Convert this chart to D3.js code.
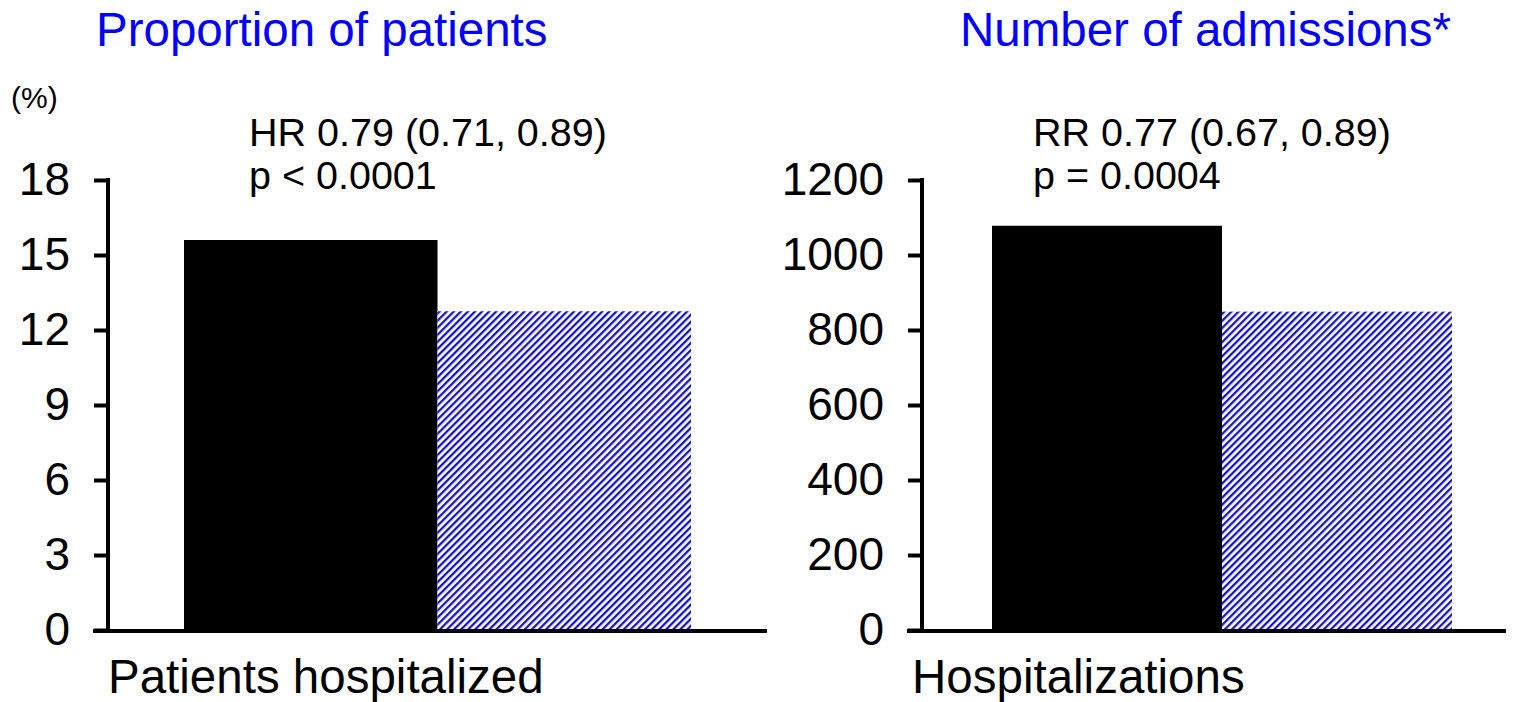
<!DOCTYPE html>
<html>
<head>
<meta charset="utf-8">
<script src="https://cdn.jsdelivr.net/npm/d3@7"></script>
<style>
  html, body { margin: 0; padding: 0; background: #fff; }
  svg { display: block; font-family: "Liberation Sans", Arial, sans-serif; }
</style>
</head>
<body>
<svg id="chart" width="1513" height="702"></svg>
<script>
// Panel data
const panelTitles = ["Proportion of patients", "Number of admissions*"];
const xLabels = ["Patients hospitalized", "Hospitalizations"];
const groups = ["Control", "Treatment"];
const patientsValues = [15.6, 12.75];
const admissionsValues = [1078, 849];
const patientsTicks = [0, 3, 6, 9, 12, 15, 18];
const admissionsTicks = [0, 200, 400, 600, 800, 1000, 1200];
const statLines = [
  ["HR 0.79 (0.71, 0.89)", "p < 0.0001"],
  ["RR 0.77 (0.67, 0.89)", "p = 0.0004"]
];
const unitLabel = "(%)";

const svg = d3.select("#chart");

// diagonal blue hatching for the second group
const defs = svg.append("defs");
const pat = defs.append("pattern")
  .attr("id", "hatch")
  .attr("patternUnits", "userSpaceOnUse")
  .attr("width", 5).attr("height", 5)
  .attr("patternTransform", "rotate(45)");
pat.append("rect").attr("width", 5).attr("height", 5).attr("fill", "#fff");
pat.append("rect").attr("x", 0).attr("y", 0).attr("width", 2.3).attr("height", 5).attr("fill", "#1414c4");

const panels = [
  { title: panelTitles[0], titleX: 96, xLabel: xLabels[0], labelX: 108, values: patientsValues, ticks: patientsTicks,
    max: 18, axisX: 108, bars: [184, 691], baseEnd: 767, stats: statLines[0], statX: 249, unit: true },
  { title: panelTitles[1], titleX: 960, xLabel: xLabels[1], labelX: 912, values: admissionsValues, ticks: admissionsTicks,
    max: 1200, axisX: 922, bars: [992, 1452], baseEnd: 1506, stats: statLines[1], statX: 1033, unit: false }
];

const yTop = 180, yBase = 630;

panels.forEach(p => {
  const g = svg.append("g");
  const y = d3.scaleLinear().domain([0, p.max]).range([yBase, yTop]);
  const x = d3.scaleBand().domain(groups).range(p.bars).paddingInner(0).paddingOuter(0);

  // bars
  g.selectAll("rect.bar").data(groups.map((k, i) => ({ k, v: p.values[i] })))
    .enter().append("rect")
    .attr("class", "bar")
    .attr("x", d => x(d.k))
    .attr("width", x.bandwidth())
    .attr("y", d => y(d.v))
    .attr("height", d => yBase - y(d.v))
    .attr("fill", (d, i) => i === 0 ? "#000" : "url(#hatch)");

  // y axis
  const yAxis = d3.axisLeft(y).tickValues(p.ticks).tickFormat(d3.format("d"))
    .tickSize(14).tickPadding(24).tickSizeOuter(0);
  const ag = g.append("g").attr("transform", `translate(${p.axisX},0)`).call(yAxis);
  ag.select(".domain").attr("stroke", "#000").attr("stroke-width", 4)
    .attr("d", `M0,${yTop - 2}V${yBase}`);
  ag.selectAll(".tick line").attr("stroke", "#000").attr("stroke-width", 4);
  ag.selectAll(".tick text")
    .attr("font-size", 46).attr("fill", "#000")
    .attr("font-family", "'Liberation Sans', Arial, sans-serif");

  // baseline
  g.append("line")
    .attr("x1", p.axisX - 15).attr("x2", p.baseEnd)
    .attr("y1", yBase + 1).attr("y2", yBase + 1)
    .attr("stroke", "#000").attr("stroke-width", 4);

  // title
  g.append("text").attr("x", p.titleX).attr("y", 46)
    .attr("font-size", 47.5).attr("fill", "#0000ff").text(p.title);

  // category label
  g.append("text").attr("x", p.labelX).attr("y", 693)
    .attr("font-size", 47.5).attr("fill", "#000").text(p.xLabel);

  // statistics
  p.stats.forEach((s, i) => {
    g.append("text").attr("x", p.statX).attr("y", 146 + i * 43)
      .attr("font-size", 39.5).attr("fill", "#000").text(s);
  });

  if (p.unit) {
    g.append("text").attr("x", 11).attr("y", 108)
      .attr("font-size", 30).attr("fill", "#000").text(unitLabel);
  }
});
</script>
</body>
</html>
